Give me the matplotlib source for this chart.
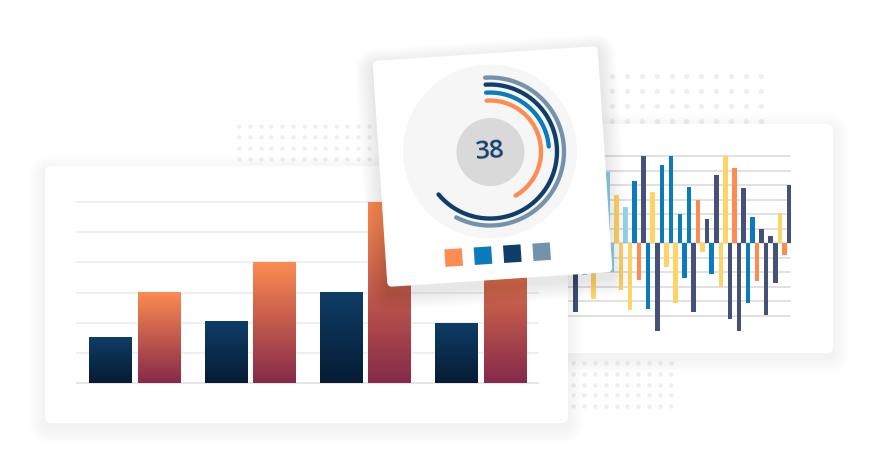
import numpy as np
import matplotlib
matplotlib.use("Agg")
import matplotlib.pyplot as plt
from matplotlib.patches import FancyBboxPatch, Rectangle
from matplotlib.transforms import Affine2D
from matplotlib.colors import LinearSegmentedColormap

# ---------------- data ----------------
# left card: grouped bars (grid units)
groups = ["Q1", "Q2", "Q3", "Q4"]
navy_values = [1.53, 2.05, 3.02, 2.0]
orange_values = [3.02, 4.02, 6.0, 5.0]

# right card: alternating positive / negative bars (grid units)
wave_values = [3.0, -4.7, 4.0, -2.2, 2.5, -3.8, 5.0, -1.5, 4.9, -2.0,
               3.3, -3.2, 2.5, -4.6, 4.3, -2.5, 6.0, -4.5, 3.5, -6.0,
               5.4, -1.6, 6.0, -4.1, 2.0, -2.4, 3.9, -4.7, 3.0, -0.6,
               1.7, -2.1, 4.7, -3.0, 6.0, -5.2, 5.2, -6.0, 3.8, -4.1,
               1.8, -2.6, 1.0, -4.9, 0.5, -2.7, 2.1, -0.8, 4.0]
wave_color_keys = ["N", "N", "B", "L", "Y", "Y", "N", "L", "L", "L",
                   "Y", "Y", "L", "Y", "B", "O", "N", "B", "Y", "N",
                   "B", "Y", "B", "Y", "B", "B", "B", "N", "O", "Y",
                   "N", "B", "N", "Y", "Y", "N", "O", "N", "N", "B",
                   "B", "O", "N", "N", "N", "N", "Y", "O", "N"]

# middle card: radial progress rings (percent of a full turn)
ring_labels = ["Orange", "Blue", "Navy", "Slate"]
ring_values = [42.7, 24.7, 65.0, 58.6]
ring_colors = ["#fd8c52", "#0a7bbd", "#0f3e6b", "#7592ab"]
center_label = "38"

# ---------------- style ----------------
wave_palette = {"N": "#465178", "B": "#0a7bbd", "Y": "#fdd466",
                "O": "#fd8c52", "L": "#93d4e8"}
wave_colors = [wave_palette[k] for k in wave_color_keys]

W, H = 879, 469
fig = plt.figure(figsize=(W / 100, H / 100), dpi=100)
fig.patch.set_facecolor("white")

bg = fig.add_axes([0, 0, 1, 1], zorder=0)
bg.set_xlim(0, W)
bg.set_ylim(H, 0)
bg.axis("off")

# decorative dot grids
def dot_grid(x0, y0, nx, ny, dx, dy, diam):
    gx, gy = np.meshgrid(x0 + dx * np.arange(nx), y0 + dy * np.arange(ny))
    bg.scatter(gx.ravel(), gy.ravel(), s=(diam * 0.72) ** 2, c="#eeeeee",
               linewidths=0)

dot_grid(239, 126, 13, 4, 10.8, 11.0, 4.2)
dot_grid(612, 76, 11, 4, 14.9, 15.0, 5.2)
dot_grid(573, 363, 10, 5, 10.9, 10.8, 4.4)


def card(x, y, w, h, z, transform=None, r=6, layers=12, spread=16, dy=5,
         alpha=0.0055):
    tr = transform if transform is not None else bg.transData
    for i in range(layers):
        p = spread * (i + 1) / layers
        sh = FancyBboxPatch((x, y + dy), w, h,
                            boxstyle=f"round,pad={p},rounding_size={r + p}",
                            fc="black", ec="none", alpha=alpha,
                            transform=tr, zorder=z)
        fig.add_artist(sh)
    c = FancyBboxPatch((x, y), w, h, boxstyle=f"round,pad=0,rounding_size={r}",
                       fc="white", ec="none", transform=tr, zorder=z + 0.5)
    fig.add_artist(c)


# ---------------- right card ----------------
card(520, 124, 313, 229, 1)

x_first, px_step = 571.0, 4.54
r_left, r_right = 540.0, 790.0
top_px, unit_px = 156.0, 14.55
y_lo, y_hi = -6.5, 6.0
bottom_px = top_px + (y_hi - y_lo) * unit_px
axr = fig.add_axes([r_left / W, (H - bottom_px) / H, (r_right - r_left) / W,
                    (bottom_px - top_px) / H], zorder=2)
axr.set_xlim((r_left - x_first) / px_step, (r_right - x_first) / px_step)
axr.set_ylim(y_lo, y_hi)
axr.axis("off")
for v in range(-5, 7):
    axr.axhline(v, color="#dcdcdc", lw=1.2, zorder=1, clip_on=False)
axr.bar(np.arange(len(wave_values)), wave_values, width=1.0,
        color=wave_colors, zorder=3, clip_on=False, linewidth=0)

# ---------------- left card ----------------
card(45, 166, 523, 257, 3)

axl = fig.add_axes([77 / W, (H - 383) / H, 461 / W, 181 / H], zorder=4)
axl.axis("off")
for v in range(0, 7):
    axl.axhline(v, color="#ececec" if v else "#e2e2e2", lw=1.2, zorder=1,
                clip_on=False)

xg = np.arange(len(groups))
bw, off = 0.365, 0.21
navy_cmap = LinearSegmentedColormap.from_list("navy", ["#061c33", "#0f3d67"])
orange_cmap = LinearSegmentedColormap.from_list("org", ["#852a4a", "#c25a4c", "#fd8d52"])
grad = np.linspace(0, 1, 256).reshape(-1, 1)


def gradient_bars(xs, vals, cmap):
    bars = axl.bar(xs, vals, bw, color="none", zorder=2)
    for b in bars:
        x0, y0, w, h = b.get_x(), b.get_y(), b.get_width(), b.get_height()
        im = axl.imshow(grad, extent=[x0, x0 + w, y0, y0 + h], origin="lower",
                        aspect="auto", cmap=cmap, zorder=2)
        im.set_clip_path(b)


gradient_bars(xg - off, navy_values, navy_cmap)
gradient_bars(xg + off, orange_values, orange_cmap)
axl.set_xlim(-0.5, 3.5)
axl.set_ylim(0, 6)

# ---------------- middle (rotated) card ----------------
rot = -3.8  # degrees in y-down pixel space (appears counter-clockwise)
ccx, ccy = 492.5, 166.5
card_local = Affine2D().rotate_deg(rot).translate(ccx, ccy)
T = card_local + bg.transData
card(-112.75, -113.2, 225.5, 226.4, 5, transform=T, r=5, spread=18, dy=6,
     alpha=0.007)

# donut centre in screen pixels
dcx, dcy = card_local.transform((-1.5, -15.1))
R_bg = 87.0
axd = fig.add_axes([(dcx - R_bg) / W, (H - dcy - R_bg) / H, 2 * R_bg / W,
                    2 * R_bg / H], projection="polar", zorder=6)
axd.set_theta_offset(np.deg2rad(90 - rot))
axd.set_theta_direction(-1)
axd.set_ylim(0, R_bg)
axd.set_xticks([])
axd.set_yticks([])
axd.grid(False)
axd.spines["polar"].set_visible(False)
axd.set_facecolor("#f6f6f6")

full = np.linspace(0, 2 * np.pi, 300)
axd.fill_between(full, 0, 34, color="#d9d9d9", zorder=1, linewidth=0)

ring_radii = [51, 59, 67, 74]
for val, col, rr in zip(ring_values, ring_colors, ring_radii):
    th = np.linspace(0, 2 * np.pi * val / 100.0, 300)
    axd.plot(th, np.full_like(th, rr), color=col, lw=3.1,
             solid_capstyle="round", zorder=3)
axd.set_ylim(0, R_bg)

axd.text(0, 0, center_label, ha="center", va="center", fontsize=18.5,
         fontweight="semibold", color="#15406e",
         family=["Open Sans", "DejaVu Sans"], rotation=-rot, zorder=5)

# legend squares under the donut
sq = 17.5
sq_x = -44.8 + 29.4 * np.arange(len(ring_labels))
for lx, col in zip(sq_x, ring_colors):
    rect = Rectangle((lx - sq / 2, 88.3 - sq / 2), sq, sq, fc=col, ec="none",
                     transform=T, zorder=7)
    fig.add_artist(rect)

fig.savefig("out.png", dpi=100, facecolor="white")
